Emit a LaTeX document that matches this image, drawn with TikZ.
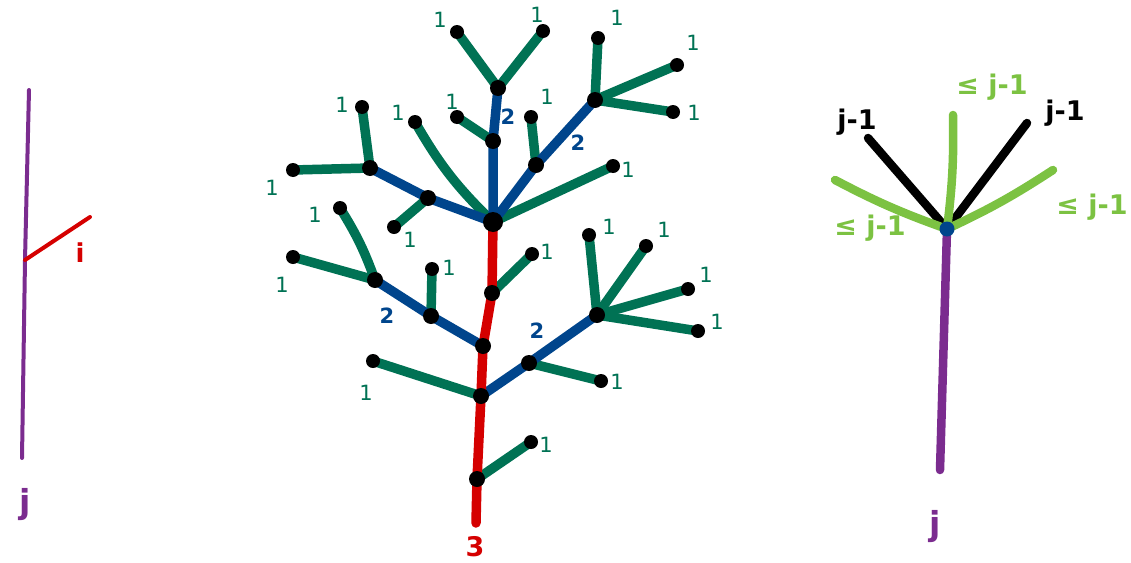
\documentclass[tikz,border=0pt]{standalone}
\usepackage{fontspec}
\setmainfont{DejaVu Sans}
\definecolor{tpurple}{HTML}{7B2C8F}
\definecolor{tred}{HTML}{D50000}
\definecolor{tblue}{HTML}{00458C}
\definecolor{tgreen}{HTML}{007254}
\definecolor{lgreen}{HTML}{7CC242}
\begin{document}
\begin{tikzpicture}[x=1pt,y=-1pt,
  br/.style={line width=9.5pt,line cap=round},
  gr/.style={br,draw=tgreen},
  bl/.style={br,draw=tblue},
  rd/.style={br,draw=tred},
  leaf/.style={circle,fill=black,inner sep=0pt,minimum size=14pt},
  knot/.style={circle,fill=black,inner sep=0pt,minimum size=16pt},
  one/.style={text=tgreen,font=\fontsize{21}{24}\selectfont},
  two/.style={text=tblue,font=\bfseries\fontsize{21}{24}\selectfont},
  rb/.style={line width=8.5pt,line cap=round},
  lab/.style={font=\bfseries\fontsize{27}{30}\selectfont},
]
\useasboundingbox (0,0) rectangle (1131,562);

% ---------- left diagram ----------
\coordinate (Lt) at (29,90);
\coordinate (Lm) at (25,260);
\coordinate (Lb) at (22,458);
\coordinate (Lr) at (90,217);
\draw[line width=4pt,line cap=round,tpurple] (Lt) -- (Lm) -- (Lb);
\draw[line width=4pt,line cap=round,tred] (Lm) -- (Lr);
\node[lab,text=tred,font=\bfseries\fontsize{26}{30}\selectfont] (li) at (80,253) {i};
\node[lab,text=tpurple,font=\bfseries\fontsize{33}{36}\selectfont] (lj) at (25,505) {j};

% ---------- tree ----------
\coordinate (C) at (493,222);
\coordinate (T1) at (493,141);
\coordinate (T2) at (498,88);
\coordinate (TL) at (457,32);
\coordinate (TR) at (543,31);
\coordinate (T1l) at (457,117);
\coordinate (R1) at (536,165);
\coordinate (R2) at (595,100);
\coordinate (R1l) at (531,117);
\coordinate (R2a) at (598,38);
\coordinate (R2b) at (677,65);
\coordinate (R2c) at (673,112);
\coordinate (Cr) at (613,166);
\coordinate (Cl) at (415,122);
\coordinate (L1) at (428,198);
\coordinate (L2) at (370,168);
\coordinate (L1l) at (394,227);
\coordinate (L2a) at (293,170);
\coordinate (L2b) at (362,107);
\coordinate (M1) at (492,293);
\coordinate (M2) at (483,346);
\coordinate (M3) at (481,396);
\coordinate (M4) at (477,479);
\coordinate (Bot) at (476,523);
\coordinate (M1l) at (532,254);
\coordinate (N1) at (431,316);
\coordinate (N2) at (375,280);
\coordinate (N1l) at (432,269);
\coordinate (N2a) at (293,257);
\coordinate (N2b) at (340,208);
\coordinate (M3l) at (373,361);
\coordinate (P1) at (529,363);
\coordinate (P2) at (597,315);
\coordinate (P1l) at (601,381);
\coordinate (P2a) at (589,235);
\coordinate (P2b) at (646,246);
\coordinate (P2c) at (688,289);
\coordinate (P2d) at (698,331);
\coordinate (M4l) at (531,442);

% green branches
\draw[gr] (T2) -- (TL);
\draw[gr] (T2) -- (TR);
\draw[gr] (T1) -- (T1l);
\draw[gr] (R1) -- (R1l);
\draw[gr] (R2) -- (R2a);
\draw[gr] (R2) -- (R2b);
\draw[gr] (R2) -- (R2c);
\draw[gr] (C) -- (Cr);
\draw[gr] (C) to[bend left=8] (Cl);
\draw[gr] (L1) -- (L1l);
\draw[gr] (L2) -- (L2a);
\draw[gr] (L2) -- (L2b);
\draw[gr] (M1) -- (M1l);
\draw[gr] (N1) -- (N1l);
\draw[gr] (N2) -- (N2a);
\draw[gr] (N2) to[bend right=6] (N2b);
\draw[gr] (M3) -- (M3l);
\draw[gr] (P1) -- (P1l);
\draw[gr] (P2) -- (P2a);
\draw[gr] (P2) -- (P2b);
\draw[gr] (P2) -- (P2c);
\draw[gr] (P2) -- (P2d);
\draw[gr] (M4) -- (M4l);
% blue branches
\draw[bl] (C) -- (T1) -- (T2);
\draw[bl] (C) -- (R1) -- (R2);
\draw[bl] (C) -- (L1) -- (L2);
\draw[bl] (M2) -- (N1) -- (N2);
\draw[bl] (M3) -- (P1) -- (P2);
% red trunk
\draw[rd] (C) -- (M1) -- (M2) -- (M3) -- (M4) -- (Bot);

% dots
\foreach \p in {TL,TR,T1l,R1l,R2a,R2b,R2c,Cr,Cl,L1l,L2a,L2b,M1l,N1l,N2a,N2b,M3l,P1l,P2a,P2b,P2c,P2d,M4l}
  \node[leaf] (d\p) at (\p) {};
\foreach \p in {T1,T2,R1,R2,L1,L2,M1,M2,M3,M4,N1,N2,P1,P2}
  \node[knot] (d\p) at (\p) {};
\node[knot,minimum size=20pt] (dC) at (C) {};

% labels "1"
\foreach \x/\y [count=\k] in {440/20,537/15,617/18,693/43,694/113,628/170,547/97,452/102,398/113,342/105,272/188,315/215,410/240,547/252,449/268,282/285,366/393,617/382,609/227,664/230,706/275,717/322,546/445}
  \node[one] (one\k) at (\x,\y) {1};
% labels "2" and "3"
\node[two] (tw1) at (508,117) {2};
\node[two] (tw2) at (578,143) {2};
\node[two] (tw3) at (387,316) {2};
\node[two] (tw4) at (537,331) {2};
\node[two,text=tred,font=\bfseries\fontsize{27}{30}\selectfont] (th) at (475,547) {3};

% ---------- right diagram ----------
\coordinate (Q) at (947,229);
\coordinate (Qb) at (940,470);
\coordinate (Qu) at (953,115);
\coordinate (Qbl) at (868,138);
\coordinate (Qbr) at (1027,123);
\coordinate (Qgl) at (835,180);
\coordinate (Qgr) at (1053,170);
\draw[rb,tpurple] (Q) -- (Qb);
\draw[rb,black] (Q) -- (Qbl);
\draw[rb,black] (Q) -- (Qbr);
\draw[rb,lgreen] (Q) to[bend right=4] (Qu);
\draw[rb,lgreen] (Q) to[bend left=4] (Qgl);
\draw[rb,lgreen] (Q) to[bend right=4] (Qgr);
\node[circle,fill=tblue,inner sep=0pt,minimum size=15pt] (dQ) at (Q) {};
\node[lab] (a1) at (857,122) {j-1};
\node[lab] (a2) at (1065,113) {j-1};
\node[lab,text=lgreen] (a3) at (992,87) {≤ j-1};
\node[lab,text=lgreen] (a4) at (1092,207) {≤ j-1};
\node[lab,text=lgreen] (a5) at (870,228) {≤ j-1};
\node[lab,text=tpurple,font=\bfseries\fontsize{33}{36}\selectfont] (rj) at (935,527) {j};
\end{tikzpicture}
\end{document}
